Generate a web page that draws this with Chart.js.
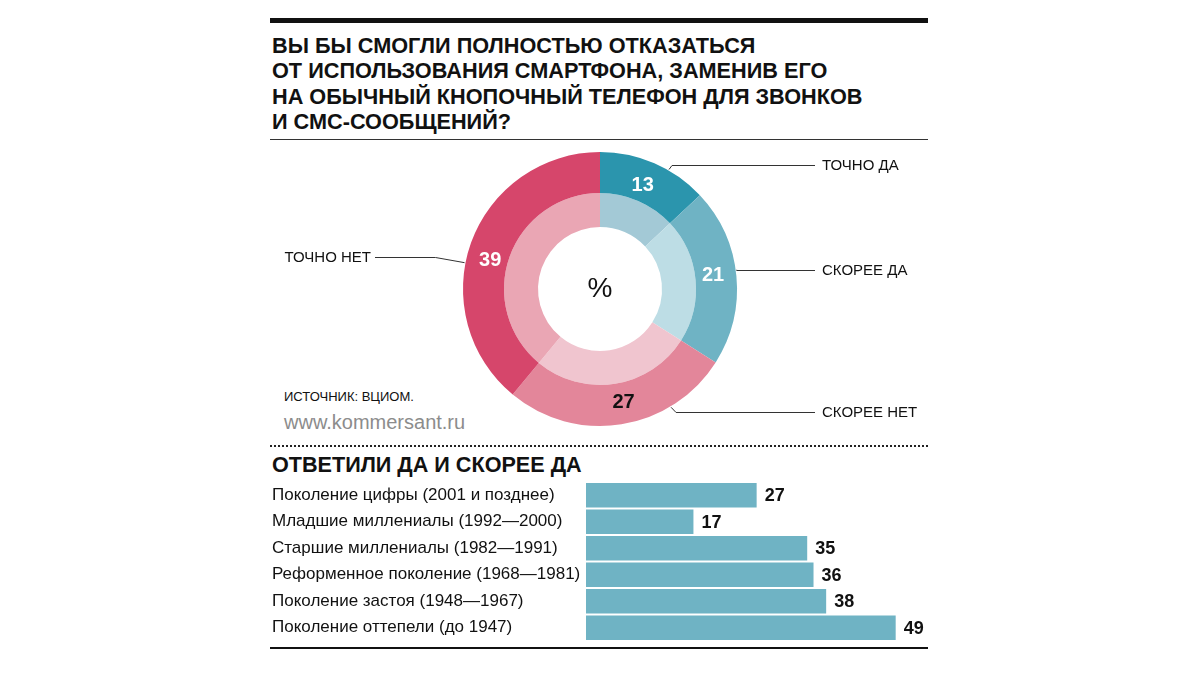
<!DOCTYPE html>
<html>
<head>
<meta charset="utf-8">
<script src="https://cdn.jsdelivr.net/npm/chart.js@4"></script>
<style>
  html, body { margin:0; padding:0; background:#fff; }
  body { width:1200px; height:675px; position:relative; overflow:hidden; font-family:"Liberation Sans", Arial, sans-serif; color:#111; }
  .abs { position:absolute; }
  #topbar { left:270px; top:18px; width:658px; height:5px; background:#111; }
  #title { left:272px; top:33px; font-weight:bold; font-size:21.7px; line-height:25.3px; white-space:nowrap; }
  #rule1 { left:270px; top:138.5px; width:658px; height:1.5px; background:#333; }
  #source { left:284px; top:389px; font-size:13px; white-space:nowrap; }
  #site { left:284px; top:411px; font-size:20px; color:#8c8c8c; white-space:nowrap; }
  #dots { left:270px; top:445px; width:658px; height:0; border-top:2px dotted #222; }
  #sub { left:272px; top:452px; font-weight:bold; font-size:21.6px; white-space:nowrap; }
  #rule2 { left:270px; top:647px; width:658px; height:2px; background:#111; }
  #donutBox { left:270px; top:139px; width:660px; height:300px; }
  #barBox { left:270px; top:482px; width:660px; height:159px; }
</style>
</head>
<body>
<div class="abs" id="topbar"></div>
<div class="abs" id="title">ВЫ БЫ СМОГЛИ ПОЛНОСТЬЮ ОТКАЗАТЬСЯ<br>ОТ ИСПОЛЬЗОВАНИЯ СМАРТФОНА, ЗАМЕНИВ ЕГО<br>НА ОБЫЧНЫЙ КНОПОЧНЫЙ ТЕЛЕФОН ДЛЯ ЗВОНКОВ<br>И СМС-СООБЩЕНИЙ?</div>
<div class="abs" id="rule1"></div>
<div class="abs" id="source">ИСТОЧНИК: ВЦИОМ.</div>
<div class="abs" id="site">www.kommersant.ru</div>
<div class="abs" id="dots"></div>
<div class="abs" id="sub">ОТВЕТИЛИ ДА И СКОРЕЕ ДА</div>
<div class="abs" id="rule2"></div>
<div class="abs" id="donutBox"><canvas id="donut"></canvas></div>
<div class="abs" id="barBox"><canvas id="bars"></canvas></div>
<script>
// ---- data ----
const donutCategories = ['ТОЧНО ДА', 'СКОРЕЕ ДА', 'СКОРЕЕ НЕТ', 'ТОЧНО НЕТ'];
const donutValues = [13, 21, 27, 39];
const barCategories = [
  'Поколение цифры (2001 и позднее)',
  'Младшие миллениалы (1992—2000)',
  'Старшие миллениалы (1982—1991)',
  'Реформенное поколение (1968—1981)',
  'Поколение застоя (1948—1967)',
  'Поколение оттепели (до 1947)'
];
const barValues = [27, 17, 35, 36, 38, 49];

// ---- styles ----
const outerColors = ['#2b95ad', '#6fb3c4', '#e3869a', '#d6466b'];
const innerColors = ['#a3c9d6', '#bddde5', '#f0c5cf', '#eaa6b4'];
const numberColors = ['#ffffff', '#ffffff', '#111111', '#ffffff'];
const barColor = '#6fb3c4';
// callout layout: anchor angle on ring (deg, clockwise from top), label line y (canvas px), side
const callouts = [
  { angle: 30, y: 26, side: 'right', elbowDx: 3 },
  { angle: 82, y: 131, side: 'right', elbowDx: 0 },
  { angle: 149, y: 273, side: 'right', elbowDx: 5 },
  { angle: 281, y: 118, side: 'left', elbowDx: -29 }
];
const FONT = '"Liberation Sans", Arial, sans-serif';
Chart.defaults.font.family = FONT;
Chart.defaults.color = '#111';

const donutLabels = {
  id: 'donutLabels',
  afterDatasetsDraw(chart) {
    const ctx = chart.ctx;
    const meta = chart.getDatasetMeta(0);
    ctx.save();
    meta.data.forEach((arc, i) => {
      const p = arc.getProps(['x', 'y', 'startAngle', 'endAngle', 'innerRadius', 'outerRadius'], true);
      const a = p.startAngle + (p.endAngle - p.startAngle) * 0.47;
      const r = p.innerRadius + (p.outerRadius - p.innerRadius) * 0.44;
      ctx.fillStyle = numberColors[i];
      ctx.font = 'bold 20px ' + FONT;
      ctx.textAlign = 'center';
      ctx.textBaseline = 'middle';
      ctx.fillText(String(donutValues[i]), p.x + Math.cos(a) * r, p.y + Math.sin(a) * r + 2);
      // callout
      const c = callouts[i];
      const th = (c.angle - 90) * Math.PI / 180;
      const ax = p.x + Math.cos(th) * (p.outerRadius + 1);
      const ay = p.y + Math.sin(th) * (p.outerRadius + 1);
      const ex = ax + c.elbowDx;
      ctx.strokeStyle = '#333';
      ctx.lineWidth = 1;
      ctx.beginPath();
      ctx.moveTo(ax, ay);
      ctx.lineTo(ex, c.y + 0.5);
      if (c.side === 'right') {
        ctx.lineTo(545, c.y + 0.5);
      } else {
        ctx.lineTo(105, c.y + 0.5);
      }
      ctx.stroke();
      ctx.font = '15px ' + FONT;
      ctx.fillStyle = '#111';
      ctx.textBaseline = 'middle';
      if (c.side === 'right') {
        ctx.textAlign = 'left';
        ctx.fillText(donutCategories[i], 552, c.y + 1);
      } else {
        ctx.textAlign = 'right';
        ctx.fillText(donutCategories[i], 101, c.y + 1);
      }
    });
    // centre sign
    ctx.font = '28px ' + FONT;
    ctx.fillStyle = '#111';
    ctx.textAlign = 'center';
    ctx.textBaseline = 'middle';
    const m = meta.data[0];
    ctx.fillText('%', m.x, m.y);
    ctx.restore();
  }
};

new Chart(document.getElementById('donut'), {
  type: 'doughnut',
  data: {
    labels: donutCategories,
    datasets: [
      { data: donutValues, backgroundColor: outerColors, borderWidth: 0, weight: 41 },
      { data: donutValues, backgroundColor: innerColors, borderWidth: 0, weight: 34 }
    ]
  },
  options: {
    responsive: true,
    maintainAspectRatio: false,
    devicePixelRatio: 1,
    animation: false,
    radius: 137,
    cutout: (62 / 137 * 100) + '%',
    layout: { padding: 0 },
    plugins: { legend: { display: false }, tooltip: { enabled: false } }
  },
  plugins: [donutLabels]
});

const barValuesPlugin = {
  id: 'barValues',
  afterDatasetsDraw(chart) {
    const ctx = chart.ctx;
    ctx.save();
    ctx.font = 'bold 18px ' + FONT;
    ctx.fillStyle = '#111';
    ctx.textAlign = 'left';
    ctx.textBaseline = 'middle';
    chart.getDatasetMeta(0).data.forEach((bar, i) => {
      ctx.fillText(String(barValues[i]), bar.x + 8, bar.y + 1);
    });
    ctx.restore();
  }
};

new Chart(document.getElementById('bars'), {
  type: 'bar',
  data: {
    labels: barCategories,
    datasets: [{ data: barValues, backgroundColor: barColor, borderWidth: 0, barPercentage: 0.925, categoryPercentage: 1 }]
  },
  options: {
    indexAxis: 'y',
    responsive: true,
    maintainAspectRatio: false,
    devicePixelRatio: 1,
    animation: false,
    layout: { padding: { left: 2, right: 28, top: 0, bottom: 0 } },
    scales: {
      x: { display: false, min: 0, max: 50 },
      y: {
        grid: { display: false },
        border: { display: false },
        ticks: { crossAlign: 'far', font: { size: 17 }, color: '#111', padding: 0 },
        afterFit(scale) { scale.width = 314; scale.paddingTop = 0; scale.paddingBottom = 0; }
      }
    },
    plugins: { legend: { display: false }, tooltip: { enabled: false } }
  },
  plugins: [barValuesPlugin]
});
</script>
</body>
</html>
